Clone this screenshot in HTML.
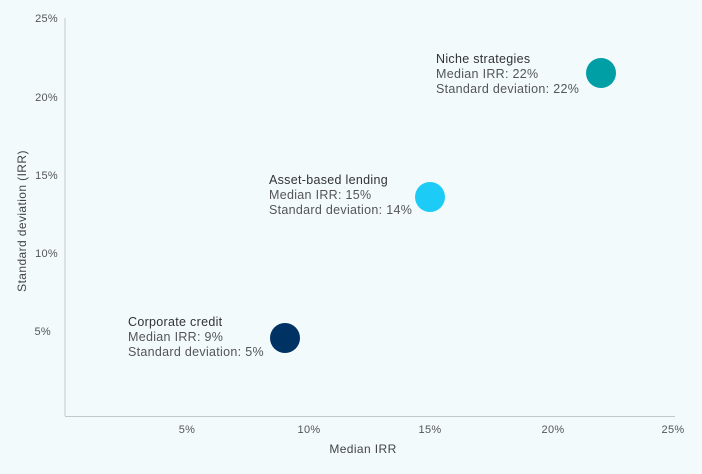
<!DOCTYPE html>
<html><head><style>
body{margin:0;background:#f2fafc;}
svg{display:block;font-family:"Liberation Sans",sans-serif;}
</style></head><body>
<svg width="702" height="474" viewBox="0 0 702 474">
<rect width="702" height="474" fill="#f2fafc"/>
<line x1="65" y1="18" x2="65" y2="416" stroke="#c4c8cc" stroke-width="1"/>
<line x1="65" y1="416.5" x2="675" y2="416.5" stroke="#c4c8cc" stroke-width="1"/>
<g font-size="11" fill="#555" text-anchor="middle" letter-spacing="0.3">
<text x="187" y="433">5%</text><text x="309" y="433">10%</text><text x="430" y="433">15%</text><text x="553" y="433">20%</text><text x="673" y="433">25%</text>
</g>
<g font-size="11" fill="#555" text-anchor="end" letter-spacing="0.3">
<text x="58" y="22">25%</text><text x="58" y="101">20%</text><text x="58" y="179">15%</text><text x="58" y="257">10%</text><text x="51" y="335">5%</text>
</g>
<text x="363" y="453" font-size="12" fill="#444" text-anchor="middle" letter-spacing="0.4">Median IRR</text>
<text transform="translate(26,221) rotate(-90)" font-size="12" fill="#444" text-anchor="middle" letter-spacing="0.4">Standard deviation (IRR)</text>
<circle cx="601" cy="73" r="15" fill="#009fa6"/>
<circle cx="430" cy="197" r="15" fill="#1dccf6"/>
<circle cx="285" cy="338" r="15" fill="#003263"/>
<g font-size="12.5" fill="#555" letter-spacing="0.3">
<text x="436" y="63" fill="#333">Niche strategies</text><text x="436" y="78">Median IRR: 22%</text><text x="436" y="93">Standard deviation: 22%</text>
<text x="269" y="184" fill="#333">Asset-based lending</text><text x="269" y="199">Median IRR: 15%</text><text x="269" y="214">Standard deviation: 14%</text>
<text x="128" y="326" fill="#333">Corporate credit</text><text x="128" y="341">Median IRR: 9%</text><text x="128" y="356">Standard deviation: 5%</text>
</g>
</svg>
</body></html>
